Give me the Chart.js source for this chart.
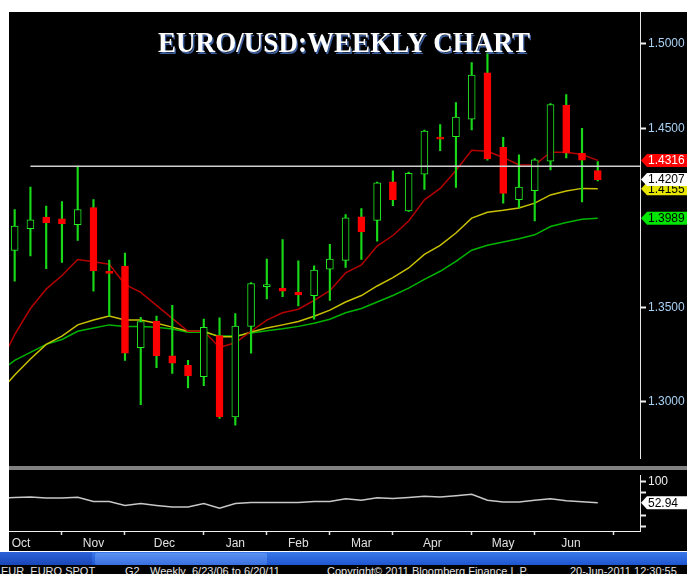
<!DOCTYPE html>
<html>
<head>
<meta charset="utf-8">
<script src="https://cdn.jsdelivr.net/npm/chart.js@4.4.1/dist/chart.umd.min.js"></script>
<style>
  html, body { margin: 0; padding: 0; background: #fff; }
  #page { position: relative; width: 687px; height: 574px; overflow: hidden; background: #fff; }
  #panel { position: absolute; left: 9px; top: 12px; width: 678px; height: 539px; background: #000; }
  #sep { position: absolute; left: 9px; top: 466px; width: 678px; height: 4px; background: #808080; }
  #mainBox { position: absolute; left: 0; top: 0; width: 687px; height: 468px; }
  #oscBox { position: absolute; left: 0; top: 466px; width: 687px; height: 84px; }
  #taskbar { position: absolute; left: 0; top: 552px; width: 687px; height: 13px;
             background: linear-gradient(#3a78e8, #1f56d0); }
  #taskbar .start { position: absolute; left: 0; top: 0; width: 92px; height: 13px; background: linear-gradient(#2c62d8, #1a47b8); }
  #taskbar .tab { position: absolute; left: 95px; top: 1px; width: 172px; height: 12px; background: linear-gradient(#5a92f0, #3a70e0); border-radius: 2px; }
  #footer { position: absolute; left: 0; top: 565px; width: 687px; height: 9px; background: #000; overflow: hidden;
            color: #e6e6e6; font: 11px "Liberation Sans", Arial, sans-serif; white-space: pre; }
  #footer span { position: absolute; top: 0; }
</style>
</head>
<body>
<div id="page">
  <div id="panel"></div>
  <div id="sep"></div>
  <div id="mainBox"><canvas id="mainChart"></canvas></div>
  <div id="oscBox"><canvas id="oscChart"></canvas></div>
  <div id="taskbar"><div class="start"></div><div class="tab"></div></div>
  <div id="footer"><span style="left:1px">EUR  EURO SPOT</span><span style="left:125px">G2</span><span style="left:150px">Weekly  6/23/06 to 6/20/11</span><span style="left:327px">Copyright© 2011 Bloomberg Finance L.P.</span><span style="left:570px">20-Jun-2011 12:30:55</span></div>
</div>
<script>
// ---- data (weekly bars, first week only feeds the averages) ----
const weeks = [
  "2010-10-01", "2010-10-08", "2010-10-15", "2010-10-22", "2010-10-29",
  "2010-11-05", "2010-11-12", "2010-11-19", "2010-11-26", "2010-12-03",
  "2010-12-10", "2010-12-17", "2010-12-24", "2010-12-31", "2011-01-07",
  "2011-01-14", "2011-01-21", "2011-01-28", "2011-02-04", "2011-02-11",
  "2011-02-18", "2011-02-25", "2011-03-04", "2011-03-11", "2011-03-18",
  "2011-03-25", "2011-04-01", "2011-04-08", "2011-04-15", "2011-04-22",
  "2011-04-29", "2011-05-06", "2011-05-13", "2011-05-20", "2011-05-27",
  "2011-06-03", "2011-06-10", "2011-06-17", "2011-06-24"
];

const openP = [null,
  1.3810, 1.3931, 1.3996, 1.3986, 1.3954, 1.4049, 1.3690, 1.3724, 1.3284, 1.3427,
  1.3242, 1.3191, 1.3132, 1.3349, 1.2922, 1.3398, 1.3612, 1.3603, 1.3581, 1.3563,
  1.3708, 1.3756, 1.3997, 1.3977, 1.4194, 1.4030, 1.4238, 1.4449, 1.4452, 1.4554,
  1.4825, 1.4391, 1.4093, 1.4144, 1.4311, 1.4635, 1.4356, 1.4258];
const highP = [null,
  1.4038, 1.4164, 1.4058, 1.4083, 1.4283, 1.4094, 1.3758, 1.3796, 1.3446, 1.3453,
  1.3511, 1.3217, 1.3437, 1.3444, 1.3467, 1.3634, 1.3763, 1.3871, 1.3754, 1.3726,
  1.3844, 1.4010, 1.4043, 1.4192, 1.4256, 1.4249, 1.4491, 1.4522, 1.4650, 1.4886,
  1.4945, 1.4449, 1.4348, 1.4326, 1.4644, 1.4697, 1.4501, 1.4309];
const lowP = [null,
  1.3642, 1.3781, 1.3711, 1.3745, 1.3866, 1.3588, 1.3453, 1.3217, 1.2986, 1.3179,
  1.3149, 1.3073, 1.3085, 1.2915, 1.2880, 1.3256, 1.3546, 1.3558, 1.3508, 1.3436,
  1.3537, 1.3717, 1.3761, 1.3862, 1.4060, 1.4028, 1.4151, 1.4372, 1.4162, 1.4491,
  1.4318, 1.4074, 1.4047, 1.3974, 1.4262, 1.4330, 1.4080, 1.4199];
const closeP = [null,
  1.3945, 1.3981, 1.3965, 1.3959, 1.4038, 1.3700, 1.3685, 1.3256, 1.3424, 1.3242,
  1.3203, 1.3136, 1.3393, 1.2922, 1.3400, 1.3629, 1.3618, 1.3588, 1.3567, 1.3703,
  1.3763, 1.3992, 1.3913, 1.4188, 1.4094, 1.4243, 1.4484, 1.4438, 1.4566, 1.4812,
  1.4324, 1.4129, 1.4164, 1.4320, 1.4639, 1.4358, 1.4317, 1.4207];

// moving averages (red / yellow / green)
const maFast = [
  1.3189, 1.3354, 1.3494, 1.3599, 1.3673, 1.3761, 1.3748, 1.3735, 1.3625, 1.3581,
  1.3511, 1.3441, 1.3372, 1.3372, 1.3286, 1.3311, 1.3372, 1.3432, 1.3471, 1.3490,
  1.3538, 1.3590, 1.3687, 1.3731, 1.3835, 1.3893, 1.3974, 1.4092, 1.4157, 1.4258,
  1.4374, 1.4368, 1.4333, 1.4290, 1.4290, 1.4363, 1.4363, 1.4350, 1.4316];
const maMid = [
  1.3047, 1.3140, 1.3225, 1.3302, 1.3346, 1.3406, 1.3432, 1.3453, 1.3432, 1.3432,
  1.3415, 1.3394, 1.3372, 1.3372, 1.3342, 1.3342, 1.3368, 1.3389, 1.3406, 1.3424,
  1.3452, 1.3485, 1.3529, 1.3564, 1.3616, 1.3661, 1.3714, 1.3789, 1.3839, 1.3907,
  1.3990, 1.4023, 1.4034, 1.4047, 1.4074, 1.4120, 1.4142, 1.4157, 1.4155];
const maSlow = [
  1.3155, 1.3217, 1.3260, 1.3302, 1.3328, 1.3372, 1.3389, 1.3406, 1.3398, 1.3398,
  1.3393, 1.3384, 1.3367, 1.3367, 1.3346, 1.3346, 1.3363, 1.3375, 1.3385, 1.3398,
  1.3415, 1.3436, 1.3471, 1.3494, 1.3529, 1.3564, 1.3604, 1.3652, 1.3696, 1.3750,
  1.3812, 1.3839, 1.3857, 1.3875, 1.3897, 1.3943, 1.3965, 1.3983, 1.3989];

// lower study panel
const oscValues = [
  62.6, 64.6, 65.8, 63.2, 63.2, 65.2, 55.6, 55.6, 46.8, 50.9,
  46.8, 43.4, 43.4, 50.9, 40.7, 50.9, 53.6, 53.6, 53.6, 53.6,
  55.6, 55.6, 61.8, 58.5, 63.8, 62.6, 64.6, 67.3, 65.8, 68.7,
  72.0, 58.5, 54.4, 54.4, 58.5, 61.8, 57.1, 55.0, 52.94];

const levelLine = 1.4282;      // horizontal line from the Nov high
const levelStart = 2;          // week index it starts from
const priceTicks = [1.30, 1.35, 1.45, 1.50];
const oscTicks = [0, 25, 75, 100];
const monthNames = ["Oct", "Nov", "Dec", "Jan", "Feb", "Mar", "Apr", "May", "Jun"];
const monthCenters = [1.4, 6, 10.5, 15, 19, 23, 27.5, 32, 36.3];
const monthEdges = [4, 8, 13, 17, 21, 25, 30, 34, 39];

// ---- helpers ----
const X_MIN = 0.64, X_MAX = 40.68;
const last = a => a[a.length - 1];
const pts = arr => arr.map((v, i) => ({ x: i, y: v }));

const wicks = [], bodies = [], bodyFill = [], bodyLine = [];
weeks.forEach((w, i) => {
  if (openP[i] == null) return;
  wicks.push({ x: i, y: [lowP[i], highP[i]] });
  bodies.push({ x: i, y: [openP[i], closeP[i]] });
  const up = closeP[i] >= openP[i];
  bodyFill.push(up ? "#000000" : "#ff0000");
  bodyLine.push(up ? "#22ee22" : "#ff0000");
});

const FONT = '"Liberation Sans", Arial, sans-serif';

function drawTag(ctx, x, y, text, fill, color) {
  ctx.save();
  ctx.beginPath();
  ctx.moveTo(x, y);
  ctx.lineTo(x + 6, y - 6.5);
  ctx.lineTo(687, y - 6.5);
  ctx.lineTo(687, y + 6.5);
  ctx.lineTo(x + 6, y + 6.5);
  ctx.closePath();
  ctx.fillStyle = fill;
  ctx.fill();
  ctx.fillStyle = color;
  ctx.font = "12px " + FONT;
  ctx.textBaseline = "middle";
  ctx.textAlign = "left";
  ctx.fillText(text, x + 7, y + 0.5);
  ctx.restore();
}

const priceTags = {
  id: "priceTags",
  afterDraw(chart) {
    const ctx = chart.ctx;
    const ys = chart.scales.y;
    const tags = [
      { v: last(maMid), fill: "#e6e600", color: "#000" },
      { v: last(closeP), fill: "#ffffff", color: "#000" },
      { v: last(maFast), fill: "#ff0000", color: "#fff" },
      { v: last(maSlow), fill: "#00e600", color: "#000" }
    ];
    tags.forEach(t => drawTag(ctx, 641, ys.getPixelForValue(t.v), t.v.toFixed(4), t.fill, t.color));

    // title
    ctx.save();
    ctx.font = 'bold 30px "Liberation Serif", "DejaVu Serif", serif';
    const w = ctx.measureText("EURO/USD:WEEKLY CHART").width;
    ctx.translate(344, 52);
    ctx.scale(372 / w, 1);
    ctx.textAlign = "center";
    ctx.textBaseline = "alphabetic";
    ctx.fillStyle = "#3d5f9e";
    ctx.fillText("EURO/USD:WEEKLY CHART", 1.5, 1.5);
    ctx.fillStyle = "#ffffff";
    ctx.fillText("EURO/USD:WEEKLY CHART", 0, 0);
    ctx.restore();
  }
};

new Chart(document.getElementById("mainChart"), {
  type: "bar",
  data: {
    datasets: [
      { type: "line", data: pts(maFast), borderColor: "#b40000", borderWidth: 1.5, pointRadius: 0, order: 5 },
      { type: "line", data: pts(maMid), borderColor: "#c8c000", borderWidth: 1.5, pointRadius: 0, order: 5 },
      { type: "line", data: pts(maSlow), borderColor: "#00b400", borderWidth: 1.5, pointRadius: 0, order: 5 },
      { data: wicks, backgroundColor: "#18d818", barThickness: 1.5, grouped: false, order: 4 },
      { data: bodies, backgroundColor: bodyFill, borderColor: bodyLine, borderWidth: 1,
        borderSkipped: false, barThickness: 7, grouped: false, minBarLength: 2, order: 3 },
      { type: "line", data: [{ x: levelStart, y: levelLine }, { x: X_MAX, y: levelLine }],
        borderColor: "#cfcfcf", borderWidth: 1.5, pointRadius: 0, order: 1 }
    ]
  },
  options: {
    responsive: true,
    maintainAspectRatio: false,
    animation: false,
    layout: { padding: { left: 9, top: 12, right: 0, bottom: 3 } },
    plugins: { legend: { display: false }, tooltip: { enabled: false }, title: { display: false } },
    scales: {
      x: { type: "linear", min: X_MIN, max: X_MAX, offset: false, display: false },
      y: {
        type: "logarithmic",
        position: "right",
        min: 1.2708,
        max: 1.519,
        bounds: "data",
        afterBuildTicks: s => { s.ticks = priceTicks.map(v => ({ value: v })); },
        afterFit: s => { s.width = 47; },
        grid: { drawOnChartArea: false, drawTicks: true, tickLength: 6, tickWidth: 2, tickColor: "#f0f0f0" },
        border: { display: true, color: "#e6e6e6", width: 1 },
        ticks: { color: "#a9d2f5", font: { family: FONT, size: 12 }, padding: 2, autoSkip: false,
                 callback: v => Number(v).toFixed(4) }
      }
    }
  },
  plugins: [priceTags]
});

const oscTag = {
  id: "oscTag",
  afterDraw(chart) {
    const v = last(oscValues);
    drawTag(chart.ctx, 641, chart.scales.y.getPixelForValue(v), v.toFixed(2), "#ffffff", "#000");
  }
};

new Chart(document.getElementById("oscChart"), {
  type: "line",
  data: {
    datasets: [
      { data: pts(oscValues), borderColor: "#c8c8c8", borderWidth: 1.5, pointRadius: 0 }
    ]
  },
  options: {
    responsive: true,
    maintainAspectRatio: false,
    animation: false,
    layout: { padding: { left: 9, top: 4, right: 0, bottom: 0 } },
    plugins: { legend: { display: false }, tooltip: { enabled: false } },
    scales: {
      x2: {
        type: "linear", position: "bottom", min: X_MIN, max: X_MAX, weight: 0, offset: false,
        afterBuildTicks: s => { s.ticks = monthEdges.map(v => ({ value: v })); },
        afterFit: s => { s.height = 4; },
        ticks: { display: true, color: "rgba(0,0,0,0)", callback: () => "" },
        grid: { drawOnChartArea: false, drawTicks: true, tickLength: 4, tickWidth: 1.5, tickColor: "#e0e0e0" },
        border: { display: true, color: "#f0f0f0", width: 1 }
      },
      x: {
        type: "linear", position: "bottom", min: X_MIN, max: X_MAX, weight: 1, offset: false,
        afterBuildTicks: s => { s.ticks = monthCenters.map(v => ({ value: v })); },
        afterFit: s => { s.height = 15; },
        grid: { display: false, drawTicks: false, tickLength: 0 },
        border: { display: false },
        ticks: { color: "#e0e0e0", font: { family: FONT, size: 12 }, padding: 1, autoSkip: false,
                 maxRotation: 0, callback: (v, i) => monthNames[i] }
      },
      y: {
        position: "right",
        min: -10.4,
        max: 114.5,
        afterBuildTicks: s => { s.ticks = oscTicks.map(v => ({ value: v })); },
        afterFit: s => { s.width = 47; },
        grid: { drawOnChartArea: false, drawTicks: true, tickLength: 6, tickWidth: 2, tickColor: "#eeeeee" },
        border: { display: true, color: "#e6e6e6", width: 1 },
        ticks: { color: "#eeeeee", font: { family: FONT, size: 12 }, padding: 2, autoSkip: false,
                 callback: v => (v === 100 ? "100" : "") }
      }
    }
  },
  plugins: [oscTag]
});
</script>
</body>
</html>
